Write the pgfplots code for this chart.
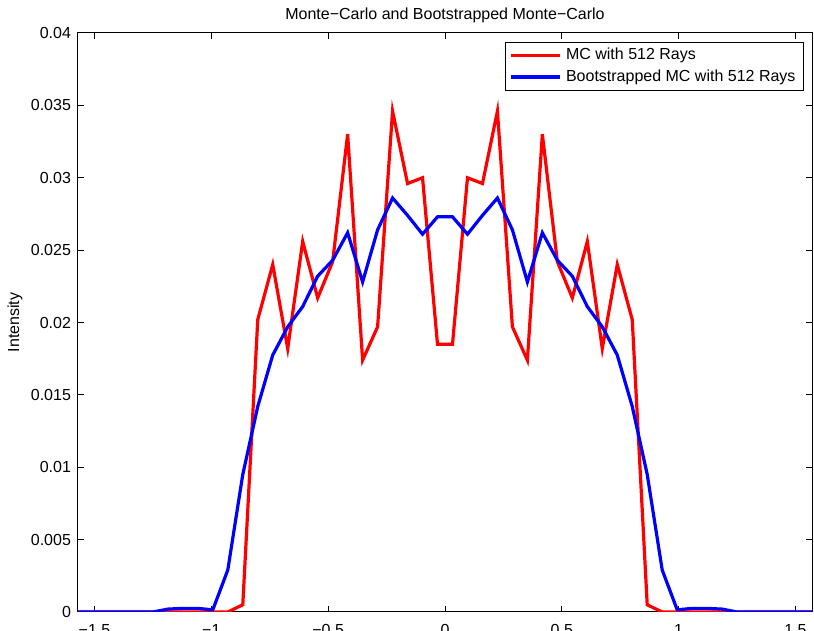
\documentclass[border=0pt]{standalone}
\usepackage{fontspec}
\setmainfont{Liberation Sans}
\usepackage{pgfplots}
\pgfplotsset{compat=1.18}
\usepackage{pgfplotstable}
\definecolor{mcred}{RGB}{255,0,0}
\definecolor{mcblue}{RGB}{0,0,255}

% plain Monte-Carlo, 50 points on [-pi/2, pi/2]
\pgfplotstableread{
x y
-1.5708 0
-1.5067 0
-1.4426 0
-1.3785 0
-1.3143 0
-1.2502 0
-1.1861 0
-1.1220 0
-1.0579 0
-0.9938 0
-0.9297 0
-0.8655 0.0005
-0.8014 0.0202
-0.7373 0.0240
-0.6732 0.0182
-0.6091 0.0256
-0.5450 0.0217
-0.4809 0.0242
-0.4167 0.0330
-0.3526 0.0174
-0.2885 0.0197
-0.2244 0.0346
-0.1603 0.0296
-0.0962 0.0300
-0.0321 0.0185
0.0321 0.0185
0.0962 0.0300
0.1603 0.0296
0.2244 0.0346
0.2885 0.0197
0.3526 0.0174
0.4167 0.0330
0.4809 0.0242
0.5450 0.0217
0.6091 0.0256
0.6732 0.0182
0.7373 0.0240
0.8014 0.0202
0.8655 0.0005
0.9297 0
0.9938 0
1.0579 0
1.1220 0
1.1861 0
1.2502 0
1.3143 0
1.3785 0
1.4426 0
1.5067 0
1.5708 0
}\mcdata

% bootstrapped Monte-Carlo
\pgfplotstableread{
x y
-1.5708 0
-1.5067 0
-1.4426 0
-1.3785 0
-1.3143 0
-1.2502 0
-1.1861 0.00020
-1.1220 0.00025
-1.0579 0.00025
-0.9938 0.00015
-0.9297 0.0029
-0.8655 0.0095
-0.8014 0.0142
-0.7373 0.01775
-0.6732 0.0197
-0.6091 0.0211
-0.5450 0.0232
-0.4809 0.0243
-0.4167 0.0262
-0.3526 0.0228
-0.2885 0.0264
-0.2244 0.0286
-0.1603 0.0274
-0.0962 0.0261
-0.0321 0.0273
0.0321 0.0273
0.0962 0.0261
0.1603 0.0274
0.2244 0.0286
0.2885 0.0264
0.3526 0.0228
0.4167 0.0262
0.4809 0.0243
0.5450 0.0232
0.6091 0.0211
0.6732 0.0197
0.7373 0.01775
0.8014 0.0142
0.8655 0.0095
0.9297 0.0029
0.9938 0.00015
1.0579 0.00025
1.1220 0.00025
1.1861 0.00020
1.2502 0
1.3143 0
1.3785 0
1.4426 0
1.5067 0
1.5708 0
}\bsdata

\begin{document}
\begin{tikzpicture}
\begin{axis}[
  scale only axis,width=367pt,height=289.5pt,
  xmin=-1.5708,xmax=1.5708,ymin=0,ymax=0.04,
  xtick={-1.5,-1,-0.5,0,0.5,1,1.5},
  xticklabels={−1.5,−1,−0.5,0,0.5,1,1.5},
  ytick={0,0.005,0.01,0.015,0.02,0.025,0.03,0.035,0.04},
  yticklabels={0,0.005,0.01,0.015,0.02,0.025,0.03,0.035,0.04},
  scaled y ticks=false,
  tick align=inside,major tick length=3pt,
  tick style={black,line width=0.5pt},
  axis line style={line width=0.5pt},
  tick label style={font=\fontsize{8}{9.6}\selectfont},
  xticklabel style={yshift=-2.5pt},
  title={Monte−Carlo and Bootstrapped Monte−Carlo},
  every axis title shift=0pt,
  title style={font=\fontsize{8}{9.6}\selectfont,at={(axis description cs:0.5,1)},anchor=base,yshift=6.75pt},
  ylabel={Intensity},
  every axis y label/.style={at={(axis description cs:-0.0858,0.5)},rotate=90,anchor=center,font=\fontsize{8}{9.6}\selectfont},
  legend style={at={(1,1)},anchor=north east,xshift=-4pt,yshift=-4.3pt,
    draw=black,line width=0.5pt,font=\fontsize{8}{9.6}\selectfont,
    inner xsep=2pt,inner ysep=1pt,row sep=-0.5pt},
  legend cell align=left,
  legend image code/.code={\draw[#1] (0pt,0pt) -- (24.5pt,0pt);},
]
\addplot[mcred,line width=1.6pt] table[x=x,y=y] {\mcdata};
\addlegendentry{MC with 512 Rays}
\addplot[mcblue,line width=1.6pt] table[x=x,y=y] {\bsdata};
\addlegendentry{Bootstrapped MC with 512 Rays}
\end{axis}
\pgfresetboundingbox
\path[use as bounding box] ([xshift=-39pt,yshift=-9.5pt]current axis.south west) rectangle ([xshift=1pt,yshift=16.5pt]current axis.north east);
\end{tikzpicture}
\end{document}
